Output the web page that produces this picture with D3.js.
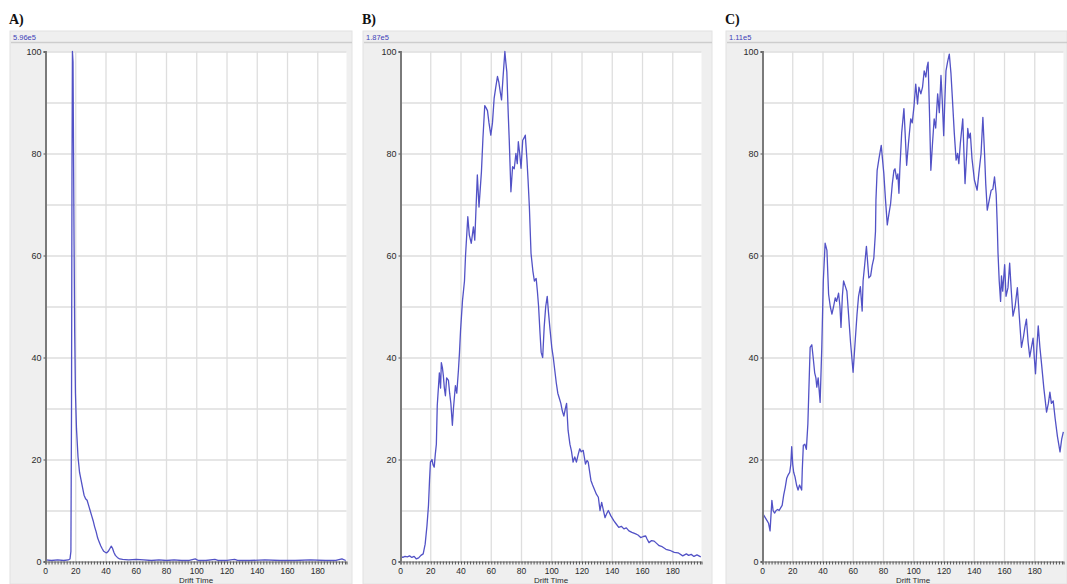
<!DOCTYPE html>
<html>
<head>
<meta charset="utf-8">
<script src="https://cdn.jsdelivr.net/npm/d3@7"></script>
<style>
  html, body { margin: 0; padding: 0; background: #fff; }
  svg { display: block; }
  .tick-label { font-family: "Liberation Sans", Arial, sans-serif; font-size: 9px; fill: #2a2a2a; }
  .x-label { font-size: 8.5px; }
  .axis-title { font-family: "Liberation Sans", Arial, sans-serif; font-size: 8px; fill: #2a2a2a; }
  .panel-key { font-family: "Liberation Serif", "Times New Roman", serif; font-size: 14px; font-weight: bold; fill: #111; }
  .scale-label { font-family: "Liberation Sans", Arial, sans-serif; font-size: 7.5px; fill: #4040b8; }
</style>
</head>
<body>
<div id="graph"></div>
<script>
// Drift time ticks and labels
const driftTicks = [0, 20, 40, 60, 80, 100, 120, 140, 160, 180];
const intensityTicks = [0, 20, 40, 60, 80, 100];
const panelKeys = ["A)", "B)", "C)"];
const scaleLabels = ["5.96e5", "1.87e5", "1.11e5"];
const axisTitle = "Drift Time";

// Mobilograms: [drift time, relative intensity %]
const traceA = [
  [0, 0.3], [4, 0.2], [8, 0.3], [12, 0.2], [15, 0.3], [16.2, 0.5], [16.8, 2], [17.2, 30],
  [17.5, 75], [17.8, 100], [18.2, 98], [18.5, 82], [18.9, 62], [19.3, 45], [19.8, 33],
  [20.5, 26], [21.5, 20.5], [22.5, 17.5], [23.5, 16], [24.5, 14.5], [25.5, 13], [26.5, 12.3],
  [27.5, 12], [28.5, 11], [29.5, 10], [30.5, 9], [31.5, 8], [32.5, 6.8], [33.5, 5.8],
  [34.5, 4.6], [35.5, 3.8], [36.5, 3.1], [37.5, 2.5], [38.5, 2], [39.5, 1.8], [40.5, 1.7],
  [41.5, 2], [42.5, 2.5], [43.5, 3], [44.3, 2.6], [45.2, 1.8], [46.2, 1.2], [47.5, 0.8],
  [49, 0.5], [51, 0.4], [55, 0.3], [60, 0.4], [65, 0.3], [70, 0.2], [75, 0.3], [80, 0.2],
  [85, 0.3], [90, 0.2], [95, 0.2], [99, 0.5], [101, 0.2], [106, 0.2], [112, 0.4], [114, 0.2],
  [120, 0.2], [125, 0.4], [127, 0.2], [135, 0.2], [145, 0.3], [155, 0.2], [165, 0.2],
  [175, 0.3], [185, 0.2], [192, 0.2], [196, 0.5], [198.5, 0.2]
];

const traceB = [
  [0, 1], [1.5, 0.8], [3, 1], [4.5, 0.9], [6, 1.1], [7.5, 0.8], [9, 1], [10.5, 0.5], [12, 0.7],
  [13.5, 1.2], [15, 1.5], [16.3, 3.4], [17.5, 7], [18.5, 11], [19.2, 16], [19.8, 19.5],
  [20.8, 20], [21.5, 19], [22.3, 18.5], [23, 21], [23.7, 23], [24.3, 30.6], [25.7, 37],
  [26.5, 34], [27, 39], [27.7, 38], [28.3, 36.5], [29, 34], [29.7, 32.5], [30.5, 36],
  [31.7, 35.5], [32.5, 33], [33.3, 31], [34.3, 26.7], [35, 30], [36.3, 34.5], [37.2, 33],
  [38.3, 37.5], [39, 41], [39.7, 45.3], [41, 51.2], [42.3, 55], [43, 60], [44.5, 67.6],
  [45.5, 64], [46.8, 62.4], [48.2, 65.6], [49.1, 63], [50.8, 75.8], [51.9, 69.5],
  [53.5, 76.4], [54.5, 83], [55.7, 89.4], [56.5, 89], [57.5, 88.4], [58.5, 86], [59.7, 83.6],
  [60.8, 86], [61.9, 90.8], [63, 93], [64.1, 95.1], [65, 94], [66, 92], [66.8, 90.5],
  [67.8, 95], [69, 100], [69.6, 98], [70.3, 96], [71.2, 88], [71.9, 82.6], [73, 72.5],
  [74.1, 77.4], [75.2, 77], [76.3, 80], [77.2, 78], [77.9, 82.3], [78.8, 80], [79.7, 77.1],
  [80.8, 82.6], [81.6, 83], [82.5, 83.6], [83.6, 78.8], [84.3, 75], [85.2, 69.5],
  [86.3, 60.4], [87.5, 57], [88.5, 55], [89.7, 55.5], [90.5, 53], [91.3, 50], [92.2, 45],
  [93, 41], [94, 40], [95, 46], [96, 50], [97, 52], [97.8, 49], [98.7, 46], [100, 42],
  [101, 40], [102, 37.5], [103, 35], [104, 33], [105, 32], [106, 31], [107, 29.5],
  [108, 28.5], [109, 30], [109.8, 31], [110.8, 25.7], [112, 23], [113, 21.7], [114.1, 19.5],
  [115.2, 20.5], [116.3, 19.5], [117.5, 21], [118.5, 22.1], [119.5, 21.5], [120.8, 21.8],
  [122.3, 19.1], [123.3, 19.8], [124.1, 19.5], [125.9, 15.9], [127, 15], [128.5, 13.9],
  [129.5, 13.2], [130.8, 12.6], [131.9, 10], [133, 11.6], [134, 10.2], [135.2, 8.6],
  [136.2, 9.3], [137.4, 10], [139, 9], [141, 8], [142.5, 7.4], [144.3, 6.7], [146, 6.9],
  [147.7, 6.4], [149.3, 6.6], [151, 6], [153, 5.7], [155.5, 5.4], [157, 5.2], [158.8, 4.7],
  [160.5, 4.9], [162.1, 5], [163, 4.4], [164.3, 3.7], [166, 4.1], [167.7, 4], [169.5, 3.5],
  [171, 3.1], [173, 2.9], [175.5, 2.4], [178, 2.2], [181, 1.8], [183.5, 1.7], [186.6, 1.1],
  [189, 1.5], [190.5, 1.2], [192.2, 1.4], [194, 1], [196, 1.3], [198.5, 0.9]
];

const traceC = [
  [0, 9.5], [1, 9], [2, 8.5], [3, 8], [4, 7.5], [5, 6], [5.6, 9], [6.2, 12], [7, 10], [8, 9.5],
  [9, 10], [10, 10.2], [11, 10], [12, 10.5], [13, 11], [14, 13], [15, 14.5], [16, 16.3],
  [17, 17], [18, 17.5], [18.7, 19], [19.3, 22.5], [20, 19], [20.6, 17.5], [21.5, 16.6],
  [22.5, 15], [23.5, 14], [24.5, 15], [25.9, 14], [26.3, 18], [27, 22.8], [28, 23], [29, 22],
  [30, 27], [31.5, 42], [32.6, 42.5], [33.5, 40], [34.5, 37], [35.3, 36], [35.9, 34.2],
  [36.8, 36], [38.1, 31.2], [39.2, 42], [40.2, 55], [41.4, 62.4], [42.6, 61], [43.7, 52.4],
  [44.8, 50], [45.9, 48.5], [47, 50], [48.1, 51.7], [49, 51], [50.3, 52.6], [51.2, 50],
  [51.9, 45.9], [52.8, 52], [53.6, 55], [54.7, 54], [55.8, 53], [57, 48], [58.2, 43],
  [59.9, 37.1], [61, 42], [62.5, 48.5], [63.5, 52], [64.7, 53.9], [65.9, 49.1], [66.5, 55],
  [67.5, 58], [68.7, 61.8], [70.3, 55.6], [71.5, 56], [72.5, 58], [73.6, 59.5], [74.7, 64.7],
  [75, 70.9], [75.8, 76.7], [77, 79], [78.5, 81.6], [79.3, 79], [80.2, 76.1], [81.3, 71],
  [82.5, 66], [83.5, 68], [84.7, 70.2], [85.8, 74], [86.9, 76.7], [87.6, 77], [88.7, 75],
  [89.5, 76], [90.2, 72.2], [90.8, 76.9], [92, 84], [93.5, 88.8], [94.3, 84], [95.3, 77.7],
  [96.5, 82], [98, 86.8], [99, 86], [100.2, 89.4], [101.3, 93.6], [102.5, 89.7], [103.4, 93],
  [104.7, 91.7], [105.8, 93], [106.9, 96.2], [108, 95], [108.8, 97], [109.5, 97.9],
  [110.4, 88], [111.3, 76.7], [112.4, 82], [113.5, 86.8], [114.5, 85], [115.8, 91.7],
  [116.9, 88], [118, 95.3], [118.9, 90], [119.8, 83.5], [120.5, 90], [121.3, 96.2],
  [122.4, 98], [123.5, 99.5], [124.6, 95.7], [125.5, 91], [126.8, 84], [128, 78.7], [129, 80],
  [129.8, 78], [130.8, 82], [132.4, 86.8], [133.2, 80], [133.9, 74.1], [135, 80], [135.7, 84.9],
  [136.5, 83], [137.4, 84], [138.5, 79], [140.1, 74.8], [141.9, 72.8], [143, 76], [144.5, 80],
  [145.7, 87.1], [146.8, 80], [147.6, 74], [148.6, 68.9], [150, 71], [151.2, 72.8],
  [152.3, 73], [153.4, 75.4], [154.5, 72], [155.2, 66], [155.7, 60.5], [156.5, 55],
  [157.4, 51], [158, 56], [158.8, 53], [160.1, 58.2], [161, 52], [162.3, 53.7], [163.4, 58.5],
  [164.5, 53], [165.6, 48.1], [167, 50], [168.5, 53.7], [169.8, 48], [171.2, 42], [172.5, 44],
  [173.5, 46], [174.5, 47.5], [175.6, 43], [176.7, 40.1], [177.8, 42], [178.9, 43.8],
  [179.7, 40], [180.5, 36.8], [181.4, 42], [182.3, 46.2], [183.4, 42], [184.5, 38.7],
  [186, 34], [187.8, 29.3], [189, 31], [190, 33.2], [191, 31], [192.2, 31.5], [193.5, 28],
  [195, 24.5], [196.7, 21.5], [197.8, 24], [198.9, 25.4]
];

const traces = [traceA, traceB, traceC];

function drawMobilograms() {
    d3.select("#graph").selectAll("*").remove();

    const width = 1067;
    const height = 584;
    const plotTop = 51.5;
    const plotH = 510;
    const plotW = 301;

    // panel frames (grey window) and plot origins
    const frames = [
        {x: 10, w: 342, plotX: 45.5},
        {x: 363, w: 349, plotX: 400.5},
        {x: 726, w: 341, plotX: 762.5}
    ];

    const svg = d3.select("#graph")
        .append("svg")
        .attr("width", width)
        .attr("height", height);

    const xScale = d3.scaleLinear().domain([0, 199]).range([0, plotW]);
    const yScale = d3.scaleLinear().domain([0, 100]).range([plotH, 0]);

    const line = d3.line()
        .x(d => xScale(d[0]))
        .y(d => yScale(d[1]));

    frames.forEach((f, i) => {
        // Panel key letter
        svg.append("text")
            .attr("class", "panel-key")
            .attr("x", f.x - 1)
            .attr("y", 24)
            .text(panelKeys[i]);

        // Grey window
        svg.append("rect")
            .attr("x", f.x)
            .attr("y", 31)
            .attr("width", f.w)
            .attr("height", height - 31)
            .attr("fill", "#efefef")
            .attr("stroke", "#e2e2e2");

        svg.append("text")
            .attr("class", "scale-label")
            .attr("x", f.x + 3)
            .attr("y", 40)
            .text(scaleLabels[i]);

        svg.append("line")
            .attr("x1", f.x + 1)
            .attr("x2", f.x + f.w)
            .attr("y1", 42.5)
            .attr("y2", 42.5)
            .attr("stroke", "#cdcdcd")
            .attr("stroke-width", 1.5);

        const g = svg.append("g")
            .attr("transform", `translate(${f.plotX},${plotTop})`);

        // Plot background
        g.append("rect")
            .attr("width", plotW)
            .attr("height", plotH)
            .attr("fill", "#fff");

        // Grid
        g.append("g")
            .selectAll("line")
            .data(d3.range(10, 101, 10))
            .join("line")
            .attr("x1", 0)
            .attr("x2", plotW)
            .attr("y1", d => yScale(d) + 0.5)
            .attr("y2", d => yScale(d) + 0.5)
            .attr("stroke", "#dedede")
            .attr("stroke-width", 1.3);

        g.append("g")
            .selectAll("line")
            .data(driftTicks.slice(1))
            .join("line")
            .attr("x1", d => xScale(d))
            .attr("x2", d => xScale(d))
            .attr("y1", 0)
            .attr("y2", plotH)
            .attr("stroke", "#dedede")
            .attr("stroke-width", 1.3);

        // Trace
        g.append("path")
            .datum(traces[i])
            .attr("fill", "none")
            .attr("stroke", "#5252c6")
            .attr("stroke-width", 1.3)
            .attr("stroke-linejoin", "round")
            .attr("d", line);

        // X axis with minor ticks
        const xAxis = d3.axisBottom(xScale)
            .tickValues(d3.range(0, 199, 2))
            .tickSize(3)
            .tickFormat("");
        const xa = g.append("g")
            .attr("transform", `translate(0,${plotH})`)
            .call(xAxis);
        xa.select(".domain").attr("stroke", "#6a6a6a").attr("stroke-width", 1.2);
        xa.selectAll(".tick line").attr("stroke", "#555");

        g.append("g")
            .selectAll("text")
            .data(driftTicks)
            .join("text")
            .attr("class", "tick-label x-label")
            .attr("x", d => xScale(d))
            .attr("y", plotH + 12)
            .attr("text-anchor", "middle")
            .text(d => d);

        g.append("text")
            .attr("class", "axis-title")
            .attr("x", plotW / 2)
            .attr("y", plotH + 21.5)
            .attr("text-anchor", "middle")
            .text(axisTitle);

        // Y axis
        const yAxis = d3.axisLeft(yScale)
            .tickValues(intensityTicks)
            .tickSize(2)
            .tickFormat("");
        const ya = g.append("g").call(yAxis);
        ya.select(".domain").attr("stroke", "#7a7a7a").attr("stroke-width", 2);
        ya.selectAll(".tick line").attr("stroke", "#555");

        g.append("g")
            .selectAll("text")
            .data(intensityTicks)
            .join("text")
            .attr("class", "tick-label")
            .attr("x", -4)
            .attr("y", d => yScale(d) + 3)
            .attr("text-anchor", "end")
            .text(d => d);
    });
}

drawMobilograms();
</script>
</body>
</html>
